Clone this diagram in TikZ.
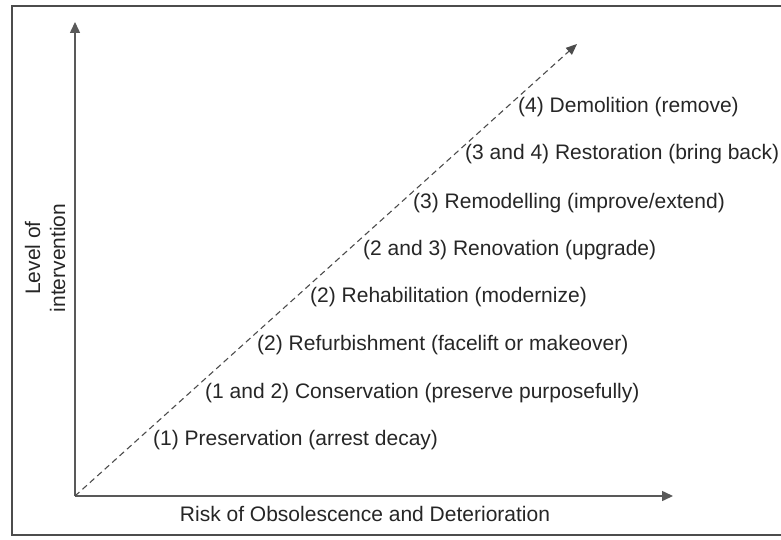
\documentclass[tikz,border=0pt]{standalone}
\usepackage{fontspec}
\setmainfont{Liberation Sans}
\usetikzlibrary{arrows.meta}
\begin{document}
\begin{tikzpicture}[x=1pt,y=-1pt,
  frame/.style={draw=black!70,line width=1.4pt},
  axis/.style={draw=black!65,line width=1.5pt,-{Triangle[length=11pt,width=10pt]}},
  trend/.style={draw=black!70,line width=1.1pt,dash pattern=on 6pt off 4pt,-{Triangle[length=11pt,width=9pt]}},
  lbl/.style={anchor=base west,inner sep=0pt,font=\fontsize{21}{25}\selectfont,text=black!85}]
\useasboundingbox (0,0) rectangle (781,540);
% outer frame (open on the right)
\draw[frame] (781,6) -- (12,6) -- (12,535) -- (781,535);
% axes
\coordinate (O) at (75,496);
\coordinate (ytop) at (75,22);
\coordinate (xend) at (673,496);
\coordinate (dend) at (577,44);
\draw[axis] (O) -- (ytop);
\draw[axis] (O) -- (xend);
\draw[trend] (O) -- (dend);
% axis titles
\node[lbl,anchor=center,rotate=90,align=center] (ylab) at (45,258) {Level of\\intervention};
\node[lbl,anchor=base] (xlab) at (365,521) {Risk of Obsolescence and Deterioration};
% intervention levels
\node[lbl] (l8) at (518,113) {(4) Demolition (remove)};
\node[lbl] (l7) at (465,160) {(3 and 4) Restoration (bring back)};
\node[lbl] (l6) at (413,208) {(3) Remodelling (improve/extend)};
\node[lbl] (l5) at (363,255) {(2 and 3) Renovation (upgrade)};
\node[lbl] (l4) at (310,302) {(2) Rehabilitation (modernize)};
\node[lbl] (l3) at (257,350) {(2) Refurbishment (facelift or makeover)};
\node[lbl] (l2) at (205,398) {(1 and 2) Conservation (preserve purposefully)};
\node[lbl] (l1) at (153,445) {(1) Preservation (arrest decay)};
\end{tikzpicture}
\end{document}
